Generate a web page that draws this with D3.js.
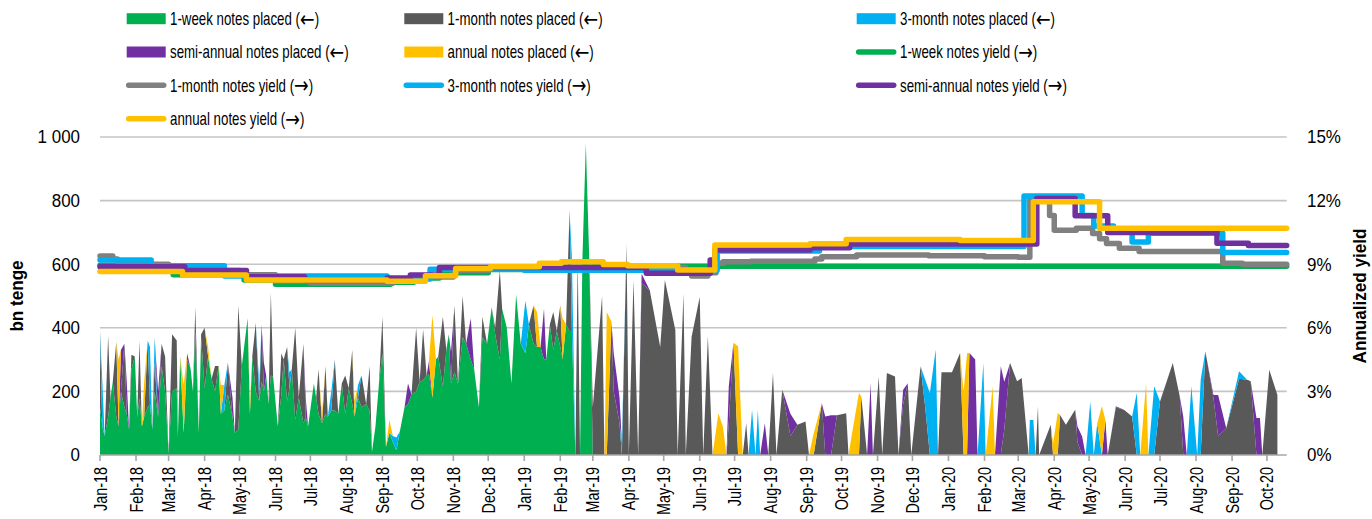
<!DOCTYPE html>
<html><head><meta charset="utf-8">
<script src="https://cdn.jsdelivr.net/npm/d3@7"></script>
<style>body{margin:0;background:#fff;} svg{display:block;font-family:"Liberation Sans",Arial,sans-serif;}</style>
</head><body><svg id="c" width="1372" height="519"></svg>
<script>
const dates = [
"2018-01-01","2018-01-03","2018-01-05","2018-01-08","2018-01-10","2018-01-12","2018-01-15","2018-01-17","2018-01-19","2018-01-22",
"2018-01-24","2018-01-26","2018-01-28","2018-01-31","2018-02-02","2018-02-04","2018-02-06","2018-02-08","2018-02-11","2018-02-13",
"2018-02-15","2018-02-17","2018-02-20","2018-02-23","2018-02-26","2018-03-01","2018-03-04","2018-03-08","2018-03-09","2018-03-11",
"2018-03-14","2018-03-17","2018-03-20","2018-03-22","2018-03-24","2018-03-27","2018-03-29","2018-04-01","2018-04-04","2018-04-07",
"2018-04-10","2018-04-13","2018-04-15","2018-04-18","2018-04-21","2018-04-25","2018-04-27","2018-04-30","2018-05-03","2018-05-08",
"2018-05-10","2018-05-12","2018-05-15","2018-05-18","2018-05-20","2018-05-22","2018-05-24","2018-05-26","2018-05-28","2018-05-30",
"2018-06-03","2018-06-06","2018-06-08","2018-06-11","2018-06-13","2018-06-15","2018-06-18","2018-06-21","2018-06-25","2018-06-27",
"2018-06-29","2018-07-04","2018-07-06","2018-07-08","2018-07-11","2018-07-14","2018-07-16","2018-07-19","2018-07-22","2018-07-25",
"2018-07-28","2018-07-31","2018-08-03","2018-08-06","2018-08-08","2018-08-11","2018-08-14","2018-08-18","2018-08-21","2018-08-23",
"2018-08-26","2018-08-29","2018-09-01","2018-09-04","2018-09-07","2018-09-10","2018-09-13","2018-09-16","2018-09-20","2018-09-23",
"2018-09-26","2018-09-30","2018-10-03","2018-10-06","2018-10-09","2018-10-11","2018-10-14","2018-10-17","2018-10-19","2018-10-23",
"2018-10-26","2018-10-28","2018-10-30","2018-11-02","2018-11-05","2018-11-09","2018-11-12","2018-11-16","2018-11-19","2018-11-23",
"2018-11-26","2018-11-30","2018-12-04","2018-12-07","2018-12-11","2018-12-13","2018-12-17","2018-12-21","2018-12-25","2018-12-29",
"2019-01-02","2019-01-05","2019-01-09","2019-01-12","2019-01-15","2019-01-18","2019-01-20","2019-01-23","2019-01-26","2019-01-29",
"2019-02-01","2019-02-03","2019-02-06","2019-02-09","2019-02-11","2019-02-14","2019-02-16","2019-02-18","2019-02-20","2019-02-23",
"2019-02-26","2019-03-01","2019-03-09","2019-03-11","2019-03-13","2019-03-17","2019-03-19","2019-03-24","2019-03-26","2019-03-30",
"2019-04-01","2019-04-05","2019-04-09","2019-04-12","2019-04-19","2019-04-28","2019-05-02","2019-05-11","2019-05-13","2019-05-18",
"2019-05-20","2019-05-25","2019-06-01","2019-06-04","2019-06-08","2019-06-12","2019-06-17","2019-06-21","2019-06-24","2019-06-26",
"2019-06-30","2019-07-04","2019-07-08","2019-07-11","2019-07-13","2019-07-16","2019-07-19","2019-07-21","2019-07-23","2019-07-27",
"2019-07-30","2019-08-03","2019-08-06","2019-08-11","2019-08-18","2019-08-24","2019-08-31","2019-09-03","2019-09-07","2019-09-14",
"2019-09-17","2019-09-22","2019-09-27","2019-10-05","2019-10-07","2019-10-11","2019-10-16","2019-10-18","2019-10-23","2019-10-26",
"2019-10-28","2019-11-02","2019-11-05","2019-11-09","2019-11-16","2019-11-19","2019-11-23","2019-11-27","2019-11-30","2019-12-08",
"2019-12-12","2019-12-16","2019-12-21","2019-12-23","2019-12-26","2020-01-04","2020-01-11","2020-01-14","2020-01-17","2020-01-19",
"2020-01-24","2020-01-26","2020-01-31","2020-02-02","2020-02-08","2020-02-10","2020-02-15","2020-02-18","2020-02-23","2020-02-29",
"2020-03-04","2020-03-10","2020-03-11","2020-03-14","2020-03-16","2020-03-18","2020-03-19","2020-03-29","2020-03-31","2020-04-04",
"2020-04-06","2020-04-11","2020-04-19","2020-04-21","2020-04-25","2020-04-28","2020-05-02","2020-05-05","2020-05-08","2020-05-12",
"2020-05-15","2020-05-17","2020-05-24","2020-05-31","2020-06-07","2020-06-11","2020-06-14","2020-06-19","2020-06-21","2020-06-26",
"2020-07-01","2020-07-12","2020-07-18","2020-07-21","2020-07-24","2020-07-28","2020-08-02","2020-08-05","2020-08-09","2020-08-16",
"2020-08-20","2020-08-27","2020-09-07","2020-09-14","2020-09-17","2020-09-22","2020-09-25","2020-09-27","2020-10-03","2020-10-10"
];

// bn tenge placed
const placed1w = [
150,90,60,120,180,230,120,90,200,150,
130,80,270,310,120,180,90,120,150,160,
80,200,120,280,200,5,200,210,60,310,
70,300,270,200,390,70,370,210,310,240,
200,280,130,140,190,120,70,80,280,430,
130,310,200,170,230,200,250,160,250,245,
90,190,300,170,210,270,110,180,100,120,
90,225,180,130,100,130,120,140,140,130,
225,130,210,160,120,180,150,160,140,10,
90,225,320,25,70,40,15,75,150,160,
190,200,230,235,250,255,180,300,310,215,
330,380,225,260,225,370,350,300,267,150,
370,350,465,380,300,460,400,225,505,350,
320,410,350,340,340,300,300,410,330,390,
340,300,410,390,390,0,0,0,610,980,
610,0,0,0,0,0,0,0,0,0,
0,0,0,0,0,0,0,0,0,0,
0,0,0,0,0,0,0,0,0,0,
0,0,0,0,0,0,0,0,0,0,
0,0,0,0,0,0,0,0,0,0,
0,0,0,0,0,0,0,0,0,0,
0,0,0,0,0,0,0,0,0,0,
0,0,0,0,0,0,0,0,0,0,
0,0,0,0,0,0,0,0,0,0,
0,0,0,0,0,0,0,0,0,0,
0,0,0,0,0,0,0,0,0,0,
0,0,0,0,0,0,0,0,0,0,
0,0,0,0,0,0,0,0,0,0,
0,0,0,0,0,0,0,0,0,0
];
const placed1m = [
240,0,0,255,0,0,235,0,0,200,
0,0,45,0,0,180,0,0,210,0,
0,90,0,70,110,0,180,150,0,0,
0,0,0,0,75,0,10,190,0,0,
80,0,0,0,100,0,0,390,0,0,
0,0,215,0,180,0,0,0,260,0,
0,130,0,170,0,0,290,0,250,0,
0,0,0,140,0,150,0,0,160,0,
0,120,0,170,0,0,100,0,140,0,
0,0,115,0,0,0,0,0,0,0,
0,200,0,160,0,0,0,0,0,220,
0,0,0,210,0,130,0,0,0,0,
65,0,0,20,280,0,0,0,0,0,
0,0,120,0,0,0,0,0,120,0,
130,0,0,380,0,0,620,0,0,0,
0,150,500,0,0,420,200,100,0,665,
0,550,0,540,518,340,550,393,0,508,
0,372,497,0,374,0,0,0,0,100,
353,0,0,100,0,0,0,0,0,0,
0,258,0,205,60,95,105,0,0,163,
0,0,125,131,0,0,0,184,0,0,
0,247,0,258,247,0,160,226,0,279,
150,0,0,0,260,260,321,0,0,0,
0,0,0,0,0,0,0,80,289,232,
242,0,0,0,0,153,0,95,0,0,
126,95,142,40,0,0,0,0,0,0,
0,0,150,142,121,0,0,0,0,0,
168,289,184,0,0,0,0,0,326,179,
60,84,240,237,232,0,0,0,268,189
];
const placed3m = [
0,140,0,0,0,0,0,0,0,0,
0,0,0,0,0,0,0,0,0,180,
0,80,0,0,0,0,0,0,0,0,
0,0,0,0,0,0,0,0,0,0,
0,0,0,80,0,0,0,0,0,0,
0,0,0,50,0,0,0,0,0,0,
0,0,0,0,50,0,0,0,0,0,
0,0,0,0,0,0,0,60,0,0,
0,0,0,0,0,40,0,0,0,0,
0,0,0,0,0,20,40,0,0,0,
0,0,0,0,0,0,0,0,0,0,
0,0,0,0,0,0,0,0,0,0,
0,0,0,0,0,0,0,0,0,0,
165,0,0,0,0,0,0,0,0,0,
0,0,0,0,230,0,0,0,0,0,
0,0,0,0,0,0,0,0,40,0,
0,0,0,0,0,0,0,0,0,0,
0,0,0,0,0,0,0,0,0,0,
0,0,0,0,0,142,0,142,0,0,
0,0,0,0,0,0,0,0,0,0,
0,0,0,0,0,0,0,0,0,0,
0,0,0,0,0,0,0,0,0,0,
87,195,332,0,0,0,0,0,0,0,
0,0,289,0,0,0,0,0,0,0,
0,0,110,110,0,0,0,0,0,0,
0,0,0,0,0,0,168,0,100,0,
0,0,0,0,0,195,0,0,0,216,
0,0,0,0,0,216,0,237,0,0,
0,0,23,0,0,0,0,0,0,0
];
const placed6m = [
0,0,0,0,0,0,0,0,130,0,
100,0,0,0,0,0,0,0,0,0,
0,0,80,0,0,0,0,0,0,0,
0,20,0,0,0,0,0,0,0,0,
0,0,0,0,0,60,0,0,0,0,
0,0,0,0,0,90,0,0,0,0,
0,0,0,0,0,0,0,0,0,60,
0,0,0,0,0,0,0,0,0,0,
0,0,0,0,0,0,0,0,0,0,
0,0,0,0,0,0,0,0,0,65,
0,0,0,0,0,40,0,0,0,0,
0,0,100,0,0,0,0,130,0,0,
0,0,0,0,0,0,0,0,0,0,
0,0,0,0,0,160,0,0,0,0,
0,0,0,0,0,0,0,0,0,0,
0,0,0,0,0,0,120,80,0,0,
0,0,0,30,0,0,0,0,0,0,
0,0,0,0,0,0,0,0,0,116,
0,0,0,0,0,0,0,0,0,100,
0,0,0,0,70,0,0,0,0,0,
121,125,0,0,0,0,0,0,0,226,
0,0,0,0,0,0,45,0,0,0,
0,0,0,0,0,0,0,0,0,321,
300,0,0,0,0,0,279,150,0,0,
0,0,0,0,0,0,0,0,0,0,
0,0,0,50,58,0,0,0,0,0,
110,0,3,0,0,0,0,0,0,0,
0,0,0,121,0,0,0,0,0,10,
129,0,0,0,0,116,116,0,0,0
];
const placed12m = [
0,0,0,0,0,0,0,210,0,0,
0,0,0,0,0,0,0,110,0,0,
0,0,0,0,0,0,0,0,0,0,
150,0,0,0,0,0,0,0,30,0,
0,0,90,0,0,0,0,0,0,0,
30,0,0,0,0,0,0,0,0,0,
0,0,0,0,0,0,0,0,0,0,
0,0,0,0,30,0,0,0,0,0,
0,0,0,0,50,0,0,0,0,0,
0,0,0,0,40,0,0,0,0,0,
0,0,0,0,0,0,260,0,0,0,
0,0,0,0,0,0,0,0,0,0,
0,0,0,0,0,0,0,0,0,0,
0,0,0,110,0,0,0,0,0,0,
0,130,0,0,0,0,0,0,0,0,
0,0,0,0,450,0,0,0,0,0,
0,0,0,0,0,0,0,0,0,0,
0,0,0,0,0,0,131,89,0,0,
0,342,0,0,0,0,0,0,0,0,
0,0,0,0,0,0,0,0,68,0,
0,0,0,0,0,89,195,0,0,0,
0,0,0,0,0,0,0,0,0,0,
0,0,0,0,0,0,0,200,320,0,
0,0,0,0,216,0,0,0,0,0,
0,0,0,0,0,0,0,0,37,132,
0,0,0,0,0,0,0,0,0,153,
0,0,0,0,0,0,0,226,0,0,
0,0,0,0,0,0,0,0,0,0,
0,0,0,0,0,0,0,0,0,0
];

// annualized yields, % (step values from the given date)
const yield1w = [["2018-01-01",8.95],["2018-01-16",8.8],["2018-02-14",8.7],["2018-03-05",8.5],["2018-05-05",8.25],["2018-06-01",8.05],["2018-09-08",8.15],["2018-09-28",8.35],["2018-10-20",8.6],["2018-12-01",8.75],["2019-01-10",8.85],["2019-03-01",8.9],["2020-10-18",8.9]];
const yield1m = [["2018-01-01",9.39],["2018-01-12",9.25],["2018-01-16",9.12],["2018-02-01",9.0],["2018-03-01",8.9],["2018-04-01",8.7],["2018-05-01",8.5],["2018-06-01",8.2],["2018-07-01",8.1],["2018-09-10",8.2],["2018-10-01",8.4],["2018-11-01",8.7],["2018-12-01",8.8],["2019-01-01",8.85],["2019-05-20",8.6],["2019-05-25",8.44],["2019-06-08",8.6],["2019-06-15",9.04],["2019-06-21",9.12],["2019-07-15",9.14],["2019-09-08",9.25],["2019-09-14",9.35],["2019-10-14",9.43],["2019-12-15",9.4],["2020-02-01",9.35],["2020-03-01",9.33],["2020-03-11",12.05],["2020-03-28",11.3],["2020-04-01",10.6],["2020-04-20",10.7],["2020-05-04",10.45],["2020-05-10",10.2],["2020-05-16",9.98],["2020-05-27",9.75],["2020-06-13",9.6],["2020-08-24",9.05],["2020-09-10",9.0],["2020-10-18",9.0]];
const yield3m = [["2018-01-01",9.2],["2018-02-14",8.93],["2018-04-18",8.44],["2018-09-05",8.3],["2018-10-12",8.76],["2019-01-01",8.72],["2019-06-16",9.62],["2019-09-12",9.83],["2020-03-06",12.22],["2020-04-25",11.3],["2020-05-05",10.8],["2020-05-22",10.55],["2020-06-07",10.05],["2020-06-21",10.46],["2020-08-24",9.55],["2020-10-18",9.55]];
const yield6m = [["2018-01-01",8.88],["2018-03-15",8.7],["2018-05-07",8.41],["2018-06-26",8.25],["2018-09-05",8.35],["2018-09-25",8.49],["2018-10-20",8.85],["2019-01-01",8.85],["2019-04-16",8.57],["2019-06-10",9.2],["2019-06-14",9.67],["2019-09-04",9.78],["2019-10-08",9.95],["2020-03-17",12.1],["2020-04-19",11.28],["2020-05-17",10.5],["2020-08-19",9.99],["2020-09-15",9.88],["2020-10-18",9.88]];
const yield12m = [["2018-01-01",8.65],["2018-03-13",8.49],["2018-05-07",8.25],["2018-09-05",8.2],["2018-10-08",8.45],["2018-11-03",8.8],["2018-12-03",8.88],["2019-01-14",9.04],["2019-02-02",9.12],["2019-03-10",8.98],["2019-03-31",8.93],["2019-05-13",8.73],["2019-06-14",9.9],["2019-09-04",9.97],["2019-10-05",10.17],["2020-01-11",10.12],["2020-03-14",11.95],["2020-05-10",10.69],["2020-10-18",10.69]];

const xTickLabels = ["Jan-18","Feb-18","Mar-18","Apr-18","May-18","Jun-18","Jul-18","Aug-18","Sep-18","Oct-18","Nov-18","Dec-18","Jan-19","Feb-19","Mar-19","Apr-19","May-19","Jun-19","Jul-19","Aug-19","Sep-19","Oct-19","Nov-19","Dec-19","Jan-20","Feb-20","Mar-20","Apr-20","May-20","Jun-20","Jul-20","Aug-20","Sep-20","Oct-20"];
const leftTicks = [0,200,400,600,800,1000];
const leftTickLabels = ["0","200","400","600","800","1 000"];
const rightTicks = [0,3,6,9,12,15];
const rightTickLabels = ["0%","3%","6%","9%","12%","15%"];

const placedNames = ["1-week notes placed","1-month notes placed","3-month notes placed","semi-annual notes placed","annual notes placed"];
const yieldNames = ["1-week notes yield","1-month notes yield","3-month notes yield","semi-annual notes yield","annual notes yield"];
const areaColors = ["#00b050","#595959","#00b0f0","#7030a0","#ffc000"];
const lineColors = ["#00b050","#808080","#00b0f0","#7030a0","#ffc000"];

[placed1w,placed1m,placed3m,placed6m,placed12m].forEach((a,i)=>{ if(a.length!==dates.length) throw new Error("length mismatch series "+i+": "+a.length+" vs "+dates.length); });

const parse = d3.timeParse("%Y-%m-%d");
const svg = d3.select("#c");
const L = 100, R = 1286.7, T = 137, B = 455;
const x = d3.scaleTime().domain([parse("2018-01-01"), parse("2020-10-18")]).range([L, R]);
const yL = d3.scaleLinear().domain([0,1000]).range([B, T]);
const yR = d3.scaleLinear().domain([0,15]).range([B, T]);

function txt(g, tx, ty, str, o) {
  o = Object.assign({size:18, sx:1, anchor:"start", rot:0, weight:"normal"}, o||{});
  return g.append("text")
    .attr("transform", `translate(${tx},${ty}) rotate(${o.rot}) scale(${o.sx},1)`)
    .attr("text-anchor", o.anchor)
    .style("font-size", o.size+"px").style("font-weight", o.weight)
    .attr("fill", "#000").text(str);
}

// gridlines
const grid = svg.append("g");
leftTicks.filter(v=>v>0).forEach(v=>{
  grid.append("line").attr("x1",L).attr("x2",R).attr("y1",yL(v)).attr("y2",yL(v))
    .attr("stroke","#c4c4c4").attr("stroke-width",1.6);
});

// stacked areas
const rows = dates.map((d,i)=>({date:parse(d), w:placed1w[i], m:placed1m[i], q:placed3m[i], s:placed6m[i], a:placed12m[i]}));
const keys = ["w","m","q","s","a"];
const stacked = d3.stack().keys(keys)(rows);
const area = d3.area().x(d=>x(d.data.date)).y0(d=>yL(d[0])).y1(d=>yL(d[1]));
svg.append("g").selectAll("path").data(stacked).join("path")
  .attr("d", area).attr("fill", (d,i)=>areaColors[i]);

// x axis
const ax = svg.append("g");
ax.append("line").attr("x1",L).attr("x2",R).attr("y1",B).attr("y2",B).attr("stroke","#a6a6a6").attr("stroke-width",1.6);
const tickParse = d3.timeParse("%b-%y");
xTickLabels.forEach(lbl=>{
  const tx = x(tickParse(lbl));
  ax.append("line").attr("x1",tx).attr("x2",tx).attr("y1",B).attr("y2",B+6).attr("stroke","#a6a6a6").attr("stroke-width",1.6);
  txt(ax, tx+6.5, 467, lbl, {size:18, sx:0.8, anchor:"end", rot:-90});
});

// y axes labels
leftTicks.forEach((v,i)=>txt(svg, 80, yL(v)+6.3, leftTickLabels[i], {size:17.5, sx:0.97, anchor:"end"}));
rightTicks.forEach((v,i)=>txt(svg, 1307, yR(v)+6.3, rightTickLabels[i], {size:17.5, sx:0.97, anchor:"start"}));
txt(svg, 23, (T+B)/2, "bn tenge", {size:18, sx:0.95, anchor:"middle", rot:-90, weight:"bold"});
txt(svg, 1366, (T+B)/2, "Annualized yield", {size:18, sx:0.95, anchor:"middle", rot:-90, weight:"bold"});

// yield lines
const line = d3.line().x(d=>x(parse(d[0]))).y(d=>yR(d[1])).curve(d3.curveStepAfter);
const yieldSeries = [yield1w, yield1m, yield3m, yield6m, yield12m];
svg.append("g").selectAll("path").data(yieldSeries).join("path")
  .attr("d", line).attr("fill","none").attr("stroke",(d,i)=>lineColors[i])
  .attr("stroke-width",5.5).attr("stroke-linejoin","round").attr("stroke-linecap","round");

// legend
const legendItems = placedNames.map((n,i)=>({label:n, arrow:"←", color:areaColors[i], type:"area"}))
  .concat(yieldNames.map((n,i)=>({label:n, arrow:"→", color:lineColors[i], type:"line"})));
const colX = [126.7, 404.3, 856.7];
const rowY = [18.7, 52, 85.3, 118.7];
const lg = svg.append("g");
legendItems.forEach((it,i)=>{
  const cx = colX[i%3], cy = rowY[Math.floor(i/3)];
  if (it.type==="area") {
    lg.append("rect").attr("x",cx).attr("y",cy-5.5).attr("width",39).attr("height",11).attr("fill",it.color);
  } else {
    lg.append("line").attr("x1",cx+2).attr("x2",cx+37).attr("y1",cy).attr("y2",cy)
      .attr("stroke",it.color).attr("stroke-width",5.5).attr("stroke-linecap","round");
  }
  const t = txt(lg, cx+43.3, cy+6.3, "", {size:17.5, sx:0.76});
  t.append("tspan").text(it.label + " (");
  t.append("tspan").style("font-family",'"DejaVu Sans", sans-serif').style("font-size","23px").attr("dy",1.5).text(it.arrow);
  t.append("tspan").attr("dy",-1.5).text(")");
});
</script></body></html>
